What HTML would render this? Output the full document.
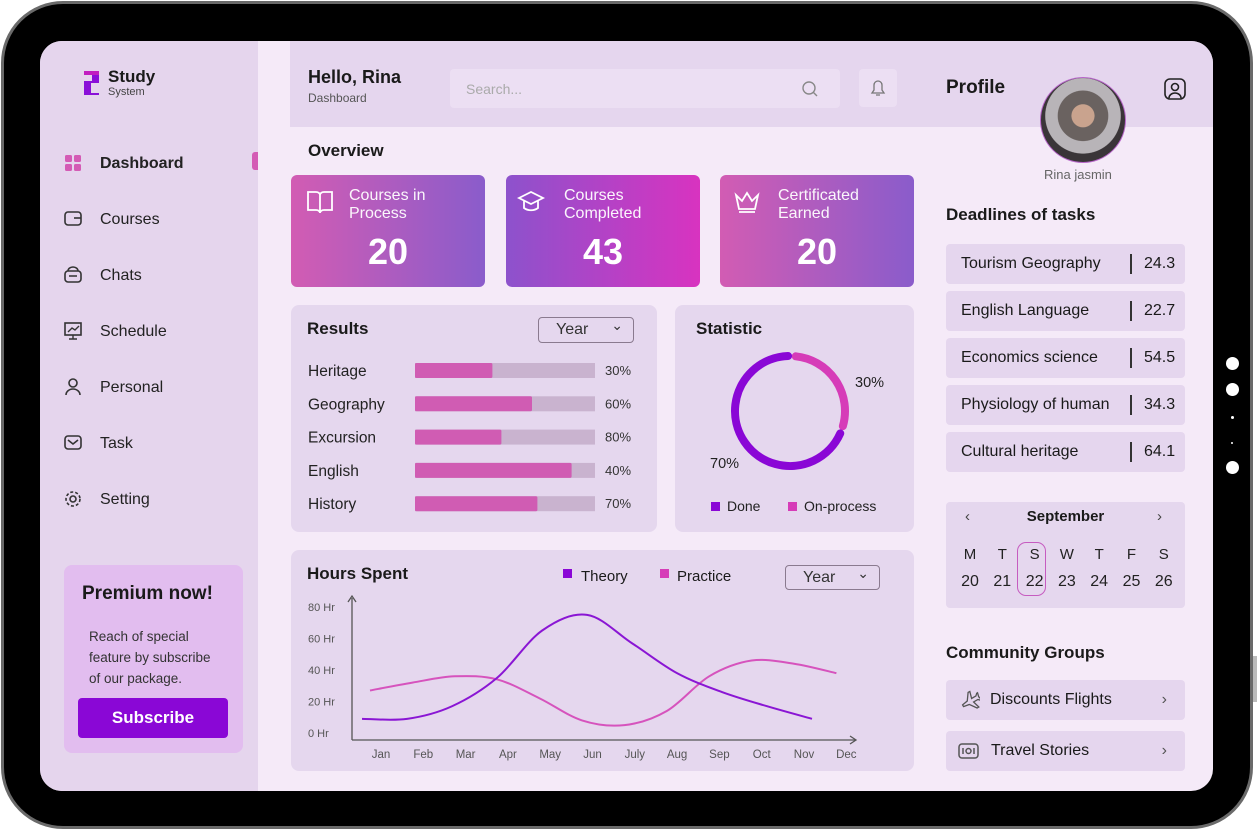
<!DOCTYPE html>
<html><head><meta charset="utf-8">
<style>
*{box-sizing:border-box;margin:0;padding:0}
body{width:1259px;height:831px;background:#fff;font-family:"Liberation Sans",sans-serif;color:#1a1a1a;position:relative;overflow:hidden}
.a{position:absolute}
.frame{left:1px;top:1px;width:1252px;height:828px;border-radius:62px;background:#000;border:3px solid #6a6a6a}
.screen{left:40px;top:41px;width:1173px;height:750px;border-radius:22px;background:#f5eaf8;overflow:hidden}
.panel{background:#e5d7ee;border-radius:8px}
.nav{left:21px;font-size:16px;color:#222;width:160px;height:22px}
.nav svg{position:absolute;left:0;top:0}
.nav span{position:absolute;left:39px;top:3px}
.card{border-radius:6px;color:#fff}
.card .t{position:absolute;left:58px;top:12px;font-size:16px;line-height:18px;opacity:.95}
.card .n{position:absolute;width:100%;text-align:center;top:56px;font-size:36px;font-weight:bold}
.row{background:#e5d6ee;border-radius:4px;font-size:16px;height:40px;line-height:40px;padding-left:15px}
.row .v{position:absolute;left:184px;top:0;border-left:2px solid #333;height:20px;top:10px;line-height:20px;padding-left:12px}
.sel{border:1.5px solid #8a7a8f;border-radius:4px;font-size:16px;color:#333;padding-left:17px;line-height:23px}
.sel:after{content:"⌄";position:absolute;right:10px;top:-4px;font-size:14px}
</style></head><body>
<div class="a frame"></div>
<div class="a" style="left:1226px;top:357px;width:13px;height:13px;border-radius:50%;background:#fff"></div>
<div class="a" style="left:1226px;top:383px;width:13px;height:13px;border-radius:50%;background:#fff"></div>
<div class="a" style="left:1231px;top:416px;width:3px;height:3px;border-radius:50%;background:#fff"></div>
<div class="a" style="left:1231px;top:442px;width:2px;height:2px;border-radius:50%;background:#fff"></div>
<div class="a" style="left:1226px;top:461px;width:13px;height:13px;border-radius:50%;background:#fff"></div>
<div class="a" style="left:1253px;top:656px;width:4px;height:46px;background:#bbb"></div>

<div class="a screen">
 <div class="a" style="left:0;top:0;width:218px;height:750px;background:#e5d5ed"></div>
 <svg class="a" style="left:42px;top:28px" width="20" height="28"><path d="M2 2h15v12h-8v10h8v2H2V12h8V4H2z" fill="#8a10d8"/><path d="M2 2h15v4H2z" fill="#c21fc0"/></svg>
 <div class="a" style="left:68px;top:26px;font-size:17px;font-weight:bold">Study</div>
 <div class="a" style="left:68px;top:45px;font-size:11px;color:#444">System</div>

 <div class="a nav" style="top:111px;font-weight:bold"><svg width="24" height="22"><g fill="#d45bb5"><rect x="4" y="3" width="7" height="7" rx="1.5"/><rect x="13" y="3" width="7" height="7" rx="1.5"/><rect x="4" y="12" width="7" height="7" rx="1.5"/><rect x="13" y="12" width="7" height="7" rx="1.5"/></g></svg><span>Dashboard</span></div>
 <div class="a" style="left:212px;top:111px;width:6px;height:18px;border-radius:3px 0 0 3px;background:#d45bb5"></div>
 <div class="a nav" style="top:167px"><svg width="24" height="22"><rect x="4" y="4" width="16" height="13" rx="3" fill="none" stroke="#333" stroke-width="1.6"/><path d="M13 10h7" stroke="#333" stroke-width="1.6"/></svg><span>Courses</span></div>
 <div class="a nav" style="top:223px"><svg width="24" height="22"><rect x="4" y="7" width="16" height="11" rx="3" fill="none" stroke="#333" stroke-width="1.6"/><path d="M7 7a5 4 0 0 1 10 0M8 12h8" fill="none" stroke="#333" stroke-width="1.6"/></svg><span>Chats</span></div>
 <div class="a nav" style="top:279px"><svg width="24" height="22"><rect x="4" y="3" width="16" height="12" fill="none" stroke="#333" stroke-width="1.6"/><path d="M7 12l4-4 3 2 4-4M12 15v4M8 19h8" fill="none" stroke="#333" stroke-width="1.4"/></svg><span>Schedule</span></div>
 <div class="a nav" style="top:335px"><svg width="24" height="22"><circle cx="12" cy="7" r="4" fill="none" stroke="#333" stroke-width="1.6"/><path d="M5 19a7 6 0 0 1 14 0" fill="none" stroke="#333" stroke-width="1.6"/></svg><span>Personal</span></div>
 <div class="a nav" style="top:391px"><svg width="24" height="22"><rect x="4" y="4" width="16" height="13" rx="3" fill="none" stroke="#333" stroke-width="1.6"/><path d="M7 8l5 4 5-4" fill="none" stroke="#333" stroke-width="1.6"/></svg><span>Task</span></div>
 <div class="a nav" style="top:447px"><svg width="24" height="22"><circle cx="12" cy="11" r="3" fill="none" stroke="#333" stroke-width="1.6"/><circle cx="12" cy="11" r="7" fill="none" stroke="#333" stroke-width="1.6" stroke-dasharray="3 2"/></svg><span>Setting</span></div>

 <div class="a" style="left:24px;top:524px;width:179px;height:188px;border-radius:8px;background:#e2bdef"></div>
 <div class="a" style="left:42px;top:542px;font-size:19px;font-weight:bold">Premium now!</div>
 <div class="a" style="left:49px;top:585px;font-size:13.5px;line-height:21px;color:#333">Reach of special<br>feature by subscribe<br>of our package.</div>
 <div class="a" style="left:38px;top:657px;width:150px;height:40px;border-radius:4px;background:#8a07d6;color:#fff;font-size:17px;font-weight:bold;text-align:center;line-height:40px">Subscribe</div>

 <div class="a" style="left:250px;top:0;width:923px;height:86px;background:#e5d6ee"></div>
 <div class="a" style="left:268px;top:26px;font-size:18px;font-weight:bold">Hello, Rina</div>
 <div class="a" style="left:268px;top:50px;font-size:12px;color:#555">Dashboard</div>
 <div class="a" style="left:410px;top:28px;width:390px;height:39px;border-radius:4px;background:#ecdff3;font-size:14px;color:#aaa;padding:12px 16px">Search...</div>
 <svg class="a" style="left:760px;top:38px" width="20" height="20"><circle cx="9" cy="9" r="6" fill="none" stroke="#888" stroke-width="1.4"/><path d="M13 13l4 4" stroke="#888" stroke-width="1.4"/></svg>
 <div class="a" style="left:819px;top:28px;width:38px;height:38px;border-radius:4px;background:#ecdff3"><svg width="38" height="38"><path d="M13 24h12l-2-3v-5a4 4 0 0 0-8 0v5zM17 26h4" fill="none" stroke="#777" stroke-width="1.3"/></svg></div>
 <div class="a" style="left:906px;top:36px;font-size:19px;font-weight:bold">Profile</div>
 <svg class="a" style="left:1124px;top:37px" width="22" height="22"><rect x="1" y="1" width="20" height="20" rx="5" fill="none" stroke="#222" stroke-width="1.6"/><circle cx="11" cy="9" r="3.5" fill="none" stroke="#222" stroke-width="1.6"/><path d="M5 20a6 5 0 0 1 12 0" fill="none" stroke="#222" stroke-width="1.6"/></svg>
 <div class="a" style="left:1000px;top:36px;width:86px;height:86px;border-radius:50%;border:1.5px solid #b766c9;background:radial-gradient(circle at 50% 45%,#c9a38e 0 18%,#6a6260 19% 40%,#b8b4b8 41% 60%,#3a3538 61%)"></div>
 <div class="a" style="left:1004px;top:126px;font-size:13px;color:#666">Rina jasmin</div>

 <div class="a" style="left:268px;top:100px;font-size:17px;font-weight:bold">Overview</div>
 <div class="a card" style="left:251px;top:134px;width:194px;height:112px;background:linear-gradient(90deg,#d25cb3,#8a5ccb)"><svg class="a" style="left:14px;top:12px" width="30" height="30"><path d="M3 5h8a4 3 0 0 1 4 3v18a4 3 0 0 0-4-3H3zM27 5h-8a4 3 0 0 0-4 3v18a4 3 0 0 1 4-3h8z" fill="none" stroke="#fff" stroke-width="1.8"/></svg><div class="t">Courses in<br>Process</div><div class="n" style="left:0">20</div></div>
 <div class="a card" style="left:466px;top:134px;width:194px;height:112px;background:linear-gradient(90deg,#8d52cc,#d833c0)"><svg class="a" style="left:10px;top:12px" width="30" height="30"><path d="M3 11l12-6 12 6-12 6zM8 14v7c4 3 10 3 14 0v-7" fill="none" stroke="#fff" stroke-width="1.8"/></svg><div class="t">Courses<br>Completed</div><div class="n">43</div></div>
 <div class="a card" style="left:680px;top:134px;width:194px;height:112px;background:linear-gradient(90deg,#d25cb3,#8a5ccb)"><svg class="a" style="left:12px;top:12px" width="30" height="30"><path d="M4 8l6 6 5-8 5 8 6-6-3 14H7zM7 25h16" fill="none" stroke="#fff" stroke-width="1.8"/></svg><div class="t">Certificated<br>Earned</div><div class="n">20</div></div>

 <div class="a panel" style="left:251px;top:264px;width:366px;height:227px"></div>
 <div class="a" style="left:267px;top:278px;font-size:17px;font-weight:bold">Results</div>
 <div class="a sel" style="left:498px;top:276px;width:96px;height:26px">Year</div>
 <svg id="results" class="a" style="left:251px;top:264px" width="366" height="227"></svg>

 <div class="a panel" style="left:635px;top:264px;width:239px;height:227px"></div>
 <div class="a" style="left:656px;top:278px;font-size:17px;font-weight:bold">Statistic</div>
 <svg id="donut" class="a" style="left:635px;top:264px" width="239" height="227"></svg>

 <div class="a panel" style="left:251px;top:509px;width:623px;height:221px"></div>
 <div class="a" style="left:267px;top:523px;font-size:17px;font-weight:bold">Hours Spent</div>
 <div class="a" style="left:523px;top:528px;width:9px;height:9px;background:#8a07d6"></div>
 <div class="a" style="left:541px;top:527px;font-size:15px">Theory</div>
 <div class="a" style="left:620px;top:528px;width:9px;height:9px;background:#d63cb8"></div>
 <div class="a" style="left:637px;top:527px;font-size:15px">Practice</div>
 <div class="a sel" style="left:745px;top:524px;width:95px;height:25px">Year</div>
 <svg id="hours" class="a" style="left:0;top:0" width="1173" height="750"></svg>

 <div class="a" style="left:906px;top:164px;font-size:17px;font-weight:bold">Deadlines of tasks</div>

 <div class="a panel" style="left:906px;top:461px;width:239px;height:106px;border-radius:4px"></div>
 <div class="a" style="left:925px;top:467px;font-size:15px;color:#444">‹</div>
 <div class="a" style="left:1117px;top:467px;font-size:15px;color:#444">›</div>
 <div class="a" style="left:906px;top:467px;width:239px;text-align:center;font-size:15px;font-weight:bold">September</div>
 <div class="a" style="left:977px;top:501px;width:29px;height:54px;border:1.5px solid #c65cc0;border-radius:9px"></div>

 <div class="a" style="left:906px;top:602px;font-size:17px;font-weight:bold">Community Groups</div>
 <div class="a row" style="left:906px;top:639px;width:239px;padding-left:44px">Discounts Flights<span class="a" style="right:18px;top:0;color:#555">›</span></div>
 <svg class="a" style="left:918px;top:648px" width="22" height="22"><path d="M3 12l6-1 5-7h2l-2 7 5 0 2-2h1l-1 4 1 4h-1l-2-2h-5l2 7h-2l-5-7-6-1z" fill="none" stroke="#555" stroke-width="1.3" transform="rotate(-30 11 11)"/></svg>
 <div class="a row" style="left:906px;top:690px;width:239px;padding-left:45px">Travel Stories<span class="a" style="right:18px;top:0;color:#555">›</span></div>
 <svg class="a" style="left:918px;top:700px" width="22" height="20"><rect x="1" y="3" width="19" height="14" rx="3" fill="none" stroke="#555" stroke-width="1.5"/><circle cx="10.5" cy="10" r="2.5" fill="none" stroke="#555" stroke-width="1.5"/><path d="M5 7v6M16 7v6" stroke="#555" stroke-width="1.5"/></svg>
</div>

<script>
const NS='http://www.w3.org/2000/svg';
function mk(p,t,at){const e=document.createElementNS(NS,t);for(const k in at)e.setAttribute(k,at[k]);p.appendChild(e);return e;}

const resultCats=['Heritage','Geography','Excursion','English','History'];
const resultFill=[43,65,48,87,68];
const resultLabels=['30%','60%','80%','40%','70%'];
(function(){
 const s=document.getElementById('results');
 const x0=124,w=180;
 resultCats.forEach((c,i)=>{
  const y=65+i*33.3;
  const t=mk(s,'text',{x:17,y:y+6,'font-size':15.5,fill:'#222'});t.textContent=c;
  
  
  const bg=mk(s,'rect',{x:x0,y:y-7,width:w,height:15,fill:'#c9b3cf'});
  
  
  const b=mk(s,'rect',{x:x0,y:y-7,width:w*resultFill[i]/100,height:15,rx:1.5,fill:'#d05cb3'});
  
  
  const v=mk(s,'text',{x:314,y:y+5,'font-size':13,fill:'#333'});v.textContent=resultLabels[i];
  
  
 });
})();

const donutLabels=['Done','On-process'];
const donutValues=[70,30];
const donutColors=['#8a07d6','#d63cb8'];
(function(){
 const s=document.getElementById('donut');
 const cx=115,cy=106,r=55,gap=8;
 const tot=donutValues.reduce((a,b)=>a+b,0);
 let start=-88;
 [1,0].forEach(i=>{
  const sweep=donutValues[i]/tot*360;
  const a1=(start+gap/2)*Math.PI/180,a2=(start+sweep-gap/2)*Math.PI/180;
  const d=`M${cx+r*Math.cos(a1)} ${cy+r*Math.sin(a1)} A${r} ${r} 0 ${sweep-gap>180?1:0} 1 ${cx+r*Math.cos(a2)} ${cy+r*Math.sin(a2)}`;
  const p=mk(s,'path',{d:d,fill:'none',stroke:donutColors[i],'stroke-width':8,'stroke-linecap':'round'});
  
  
  start+=sweep;
 });
 const t1=mk(s,'text',{x:180,y:82,'font-size':14.5,fill:'#222'});t1.textContent=donutValues[1]+'%';
 
 
 const t2=mk(s,'text',{x:35,y:163,'font-size':14.5,fill:'#222'});t2.textContent=donutValues[0]+'%';
 
 
 donutLabels.forEach((l,i)=>{
  const x=i?113:36;
  const r1=mk(s,'rect',{x:x,y:197,width:9,height:9,fill:donutColors[i]});
  
  
  const t=mk(s,'text',{x:x+16,y:206,'font-size':14,fill:'#222'});t.textContent=l;
  
  
 });
})();

const months=['Jan','Feb','Mar','Apr','May','Jun','July','Aug','Sep','Oct','Nov','Dec'];
const yTicks=[0,20,40,60,80];
const theory=[9,9,17,35,65,75,57,38,26,17,9];
const practice=[27,32,36,34,22,8,5,14,36,46,44,38];
(function(){
 const s=document.getElementById('hours');
 const X=i=>322+i*43.5;
 const Y=v=>692-v*1.575;
 const g=mk(s,'g',{});
 const ax=mk(g,'path',{d:`M312 ${Y(0)+7}V557M308 561L312 555L316 561M312 ${Y(0)+7}H816M810 ${Y(0)+3}L816 ${Y(0)+7}L810 ${Y(0)+11}`,fill:'none',stroke:'#555','stroke-width':1.3});
 
 
 yTicks.forEach(v=>{
  const t=mk(g,'text',{x:268,y:Y(v)+4,'font-size':11,fill:'#555'});t.textContent=v+' Hr';
  
  
 });
 months.forEach((m,i)=>{
  const t=mk(g,'text',{x:341+i*42.3,y:717,'font-size':11.5,fill:'#555','text-anchor':'middle'});t.textContent=m;
  
  
 });
 function path(vals,x0,step){
  const pts=vals.map((v,i)=>[x0+i*step,Y(v)]);
  let d=`M${pts[0][0]} ${pts[0][1]}`;
  for(let i=0;i<pts.length-1;i++){
   const p0=pts[i-1]||pts[i],p1=pts[i],p2=pts[i+1],p3=pts[i+2]||p2;
   const c1=[p1[0]+(p2[0]-p0[0])/6,p1[1]+(p2[1]-p0[1])/6];
   const c2=[p2[0]-(p3[0]-p1[0])/6,p2[1]-(p3[1]-p1[1])/6];
   d+=` C${c1[0]} ${c1[1]} ${c2[0]} ${c2[1]} ${p2[0]} ${p2[1]}`;
  }
  return d;
 }
 const pp=mk(g,'path',{d:path(practice,330,42.4),fill:'none',stroke:'#d653bd','stroke-width':2});
 
 
 const tp=mk(g,'path',{d:path(theory,322,45),fill:'none',stroke:'#8a16d4','stroke-width':2});
 
 
})();

const tasks=['Tourism Geography','English Language','Economics science','Physiology of human','Cultural heritage'];
const taskValues=['24.3','22.7','54.5','34.3','64.1'];
(function(){
 const scr=document.querySelector('.screen');
 tasks.forEach((t,i)=>{
  const d=document.createElement('div');
  d.className='a row';
  d.style.cssText=`left:906px;top:${203+i*47}px;width:239px`;
  
  
  d.innerHTML=t+'<span class="v">'+taskValues[i]+'</span>';
  scr.appendChild(d);
 });
 const days=['M','T','S','W','T','F','S'],nums=['20','21','22','23','24','25','26'];
 days.forEach((dd,i)=>{
  const a=document.createElement('div');a.className='a';
  a.style.cssText=`left:${918+i*32.3}px;top:505px;width:24px;text-align:center;font-size:15px;color:#222`;
  a.textContent=dd;
  
  
  scr.appendChild(a);
  const b=document.createElement('div');b.className='a';
  b.style.cssText=`left:${916+i*32.3}px;top:532px;width:28px;text-align:center;font-size:16px;color:#222`;
  b.textContent=nums[i];
  
  
  scr.appendChild(b);
 });
})();
</script>
</body></html>
